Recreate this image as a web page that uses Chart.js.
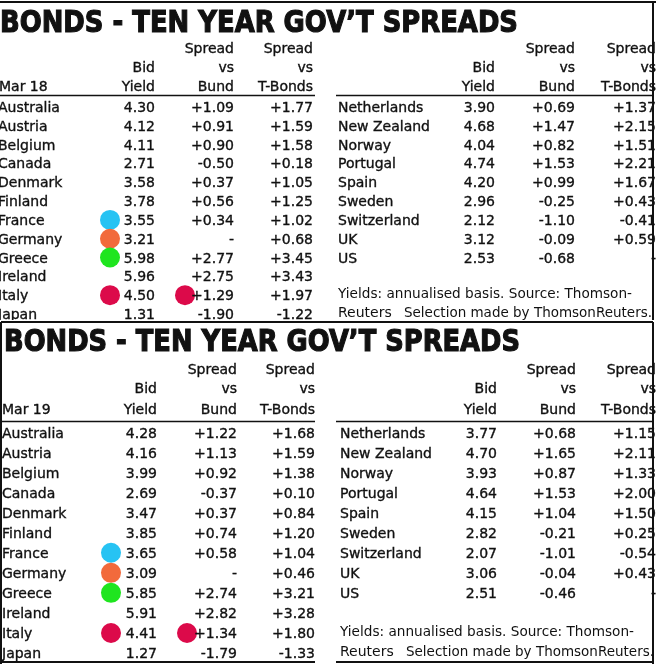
<!DOCTYPE html>
<html>
<head>
<meta charset="utf-8">
<script src="https://cdn.jsdelivr.net/npm/chart.js@4.4.1/dist/chart.umd.min.js"></script>
<style>
  body { margin: 0; background: #fff; }
  canvas { position: absolute; left: 0; }
  #top { top: 0; }
  #bottom { top: 320px; }
</style>
</head>
<body>
<canvas id="top" width="656" height="320"></canvas>
<canvas id="bottom" width="656" height="344"></canvas>
<script>
var title = "BONDS - TEN YEAR GOV\u2019T SPREADS";
var headSpread = ["", "Spread", "Spread"];
var headMid = ["Bid", "vs", "vs"];
var headLow = ["Yield", "Bund", "T-Bonds"];
var footnote1 = "Yields: annualised basis. Source: Thomson-";
var footnote2a = "Reuters";
var footnote2b = "Selection made by ThomsonReuters.";

var leftCountries = ["Australia", "Austria", "Belgium", "Canada", "Denmark", "Finland",
                     "France", "Germany", "Greece", "Ireland", "Italy", "Japan"];
var rightCountries = ["Netherlands", "New Zealand", "Norway", "Portugal", "Spain",
                      "Sweden", "Switzerland", "UK", "US"];

// Mar 18
var yieldL18 = [4.30, 4.12, 4.11, 2.71, 3.58, 3.78, 3.55, 3.21, 5.98, 5.96, 4.50, 1.31];
var bundL18 = [1.09, 0.91, 0.90, -0.50, 0.37, 0.56, 0.34, null, 2.77, 2.75, 1.29, -1.90];
var tbondL18 = [1.77, 1.59, 1.58, 0.18, 1.05, 1.25, 1.02, 0.68, 3.45, 3.43, 1.97, -1.22];
var yieldR18 = [3.90, 4.68, 4.04, 4.74, 4.20, 2.96, 2.12, 3.12, 2.53];
var bundR18 = [0.69, 1.47, 0.82, 1.53, 0.99, -0.25, -1.10, -0.09, -0.68];
var tbondR18 = [1.37, 2.15, 1.51, 2.21, 1.67, 0.43, -0.41, 0.59, null];

// Mar 19
var yieldL19 = [4.28, 4.16, 3.99, 2.69, 3.47, 3.85, 3.65, 3.09, 5.85, 5.91, 4.41, 1.27];
var bundL19 = [1.22, 1.13, 0.92, -0.37, 0.37, 0.74, 0.58, null, 2.74, 2.82, 1.34, -1.79];
var tbondL19 = [1.68, 1.59, 1.38, 0.10, 0.84, 1.20, 1.04, 0.46, 3.21, 3.28, 1.80, -1.33];
var yieldR19 = [3.77, 4.70, 3.93, 4.64, 4.15, 2.82, 2.07, 3.06, 2.51];
var bundR19 = [0.68, 1.65, 0.87, 1.53, 1.04, -0.21, -1.01, -0.04, -0.46];
var tbondR19 = [1.15, 2.11, 1.33, 2.00, 1.50, 0.25, -0.54, 0.43, null];

// coloured markers put on the cuttings
var dotCountries = ["France", "Germany", "Greece", "Italy", "Italy"];
var dotColumns = ["yield", "yield", "yield", "yield", "bund"];
var dotColors = ["#27c3f3", "#f26a3c", "#1fe51f", "#dc0a4a", "#dc0a4a"];

var FONT = '14px "DejaVu Sans", sans-serif';
var INK = "#111";

function fmtYield(v) { return v.toFixed(2); }
function fmtSpread(v) {
    if (v === null) return "-";
    return (v > 0 ? "+" : "") + v.toFixed(2);
}

function fitText(ctx, s, x, y, maxW) {
    var w = ctx.measureText(s).width;
    if (w <= maxW) { ctx.fillText(s, x, y); return; }
    ctx.save();
    ctx.translate(x, y);
    ctx.scale(maxW / w, 1);
    ctx.fillText(s, 0, 0);
    ctx.restore();
}

function makePanel(id, date, L, R, lay) {
    var points = [];
    for (var i = 0; i < dotCountries.length; i++) {
        var col = dotColumns[i] == "yield" ? 0 : 1;
        points.push({
            x: lay.colL[col] - lay.dotGap[col],
            y: leftCountries.indexOf(dotCountries[i])
        });
    }

    var tablePlugin = {
        id: "table",
        afterDatasetsDraw: function (chart) {
            var ctx = chart.ctx;
            var xs = chart.scales.x;
            var ys = chart.scales.y;
            ctx.save();
            ctx.fillStyle = INK;
            ctx.strokeStyle = INK;

            // title
            ctx.font = 'bold 30px "DejaVu Sans", sans-serif';
            ctx.textAlign = "left";
            ctx.textBaseline = "alphabetic";
            var tw = ctx.measureText(title).width;
            ctx.save();
            ctx.translate(lay.titleX, lay.titleY);
            ctx.scale(lay.titleW / tw, 1);
            ctx.lineWidth = 1.2;
            ctx.fillText(title, 0, 0);
            ctx.strokeText(title, 0, 0);
            ctx.restore();

            ctx.font = FONT;
            ctx.lineWidth = 0.35;
            function txt(s, x, y) { ctx.fillText(s, x, y); ctx.strokeText(s, x, y); }

            // headers
            var heads = [headSpread, headMid, headLow];
            for (var h = 0; h < 3; h++) {
                ctx.textAlign = "right";
                for (var c = 0; c < 3; c++) {
                    txt(heads[h][c], xs.getPixelForValue(lay.colL[c]), lay.headY[h] + 5);
                    txt(heads[h][c], xs.getPixelForValue(lay.colR[c]), lay.headY[h] + 5);
                }
            }
            ctx.textAlign = "left";
            txt(date, xs.getPixelForValue(lay.dateX), lay.headY[2] + 5);

            // rows
            for (var r = 0; r < leftCountries.length; r++) {
                var y = ys.getPixelForValue(r) + 5;
                ctx.textAlign = "left";
                txt(leftCountries[r], xs.getPixelForValue(lay.nameL), y);
                ctx.textAlign = "right";
                txt(fmtYield(L[0][r]), xs.getPixelForValue(lay.colL[0]), y);
                txt(fmtSpread(L[1][r]), xs.getPixelForValue(lay.colL[1]), y);
                txt(fmtSpread(L[2][r]), xs.getPixelForValue(lay.colL[2]), y);
            }
            for (var r = 0; r < rightCountries.length; r++) {
                var y = ys.getPixelForValue(r) + 5;
                ctx.textAlign = "left";
                txt(rightCountries[r], xs.getPixelForValue(lay.nameR), y);
                ctx.textAlign = "right";
                txt(fmtYield(R[0][r]), xs.getPixelForValue(lay.colR[0]), y);
                txt(fmtSpread(R[1][r]), xs.getPixelForValue(lay.colR[1]), y);
                txt(fmtSpread(R[2][r]), xs.getPixelForValue(lay.colR[2]), y);
            }

            // footnote
            ctx.textAlign = "left";
            var f1 = ys.getPixelForValue(9.9) + 5;
            var f2 = ys.getPixelForValue(10.9) + 5;
            fitText(ctx, footnote1, xs.getPixelForValue(lay.nameR), f1, 294);
            ctx.fillText(footnote2a, xs.getPixelForValue(lay.nameR), f2);
            fitText(ctx, footnote2b, xs.getPixelForValue(lay.nameR + 66), f2, 248);

            // rules
            ctx.lineWidth = 1.5;
            ctx.beginPath();
            ctx.moveTo(0, lay.ruleY); ctx.lineTo(315, lay.ruleY);
            ctx.moveTo(336, lay.ruleY); ctx.lineTo(653, lay.ruleY);
            ctx.stroke();

            ctx.lineWidth = 2;
            ctx.beginPath();
            if (lay.box) {
                ctx.moveTo(1, lay.boxTop); ctx.lineTo(653, lay.boxTop);
                ctx.moveTo(1, lay.boxTop); ctx.lineTo(1, chart.height);
                ctx.moveTo(0, chart.height - 2); ctx.lineTo(315, chart.height - 2);
                ctx.moveTo(336, chart.height - 2); ctx.lineTo(653, chart.height - 2);
            } else {
                ctx.moveTo(0, lay.boxTop); ctx.lineTo(656, lay.boxTop);
            }
            ctx.moveTo(653, lay.boxTop); ctx.lineTo(653, chart.height);
            ctx.stroke();
            ctx.restore();
        }
    };

    return new Chart(document.getElementById(id).getContext("2d"), {
        type: "scatter",
        data: {
            datasets: [{
                data: points,
                pointRadius: 10,
                pointHoverRadius: 10,
                pointBorderWidth: 0,
                pointBackgroundColor: dotColors
            }]
        },
        options: {
            responsive: false,
            animation: false,
            events: [],
            layout: { autoPadding: false, padding: { top: lay.padTop, bottom: lay.padBottom, left: 0, right: 0 } },
            plugins: { legend: { display: false }, tooltip: { enabled: false } },
            scales: {
                x: { type: "linear", min: 0, max: 656, display: false },
                y: { type: "linear", min: 0, max: 11, reverse: true, display: false }
            }
        },
        plugins: [tablePlugin]
    });
}

makePanel("top", "Mar 18",
    [yieldL18, bundL18, tbondL18], [yieldR18, bundR18, tbondR18],
    { padTop: 107, padBottom: 6, nameL: -2, nameR: 338, dateX: -1,
      colL: [155, 234, 313], colR: [495, 575, 656], dotGap: [45, 49],
      headY: [47.5, 67, 86], ruleY: 95.5, titleX: 0, titleY: 31.5, titleW: 518,
      boxTop: 2, box: false });

makePanel("bottom", "Mar 19",
    [yieldL19, bundL19, tbondL19], [yieldR19, bundR19, tbondR19],
    { padTop: 112.5, padBottom: 11, nameL: 2, nameR: 340, dateX: 2,
      colL: [157, 237, 315], colR: [497, 576, 656], dotGap: [46, 50],
      headY: [49, 68, 89], ruleY: 101.5, titleX: 4, titleY: 30.5, titleW: 516,
      boxTop: 2, box: true });
</script>
</body>
</html>
